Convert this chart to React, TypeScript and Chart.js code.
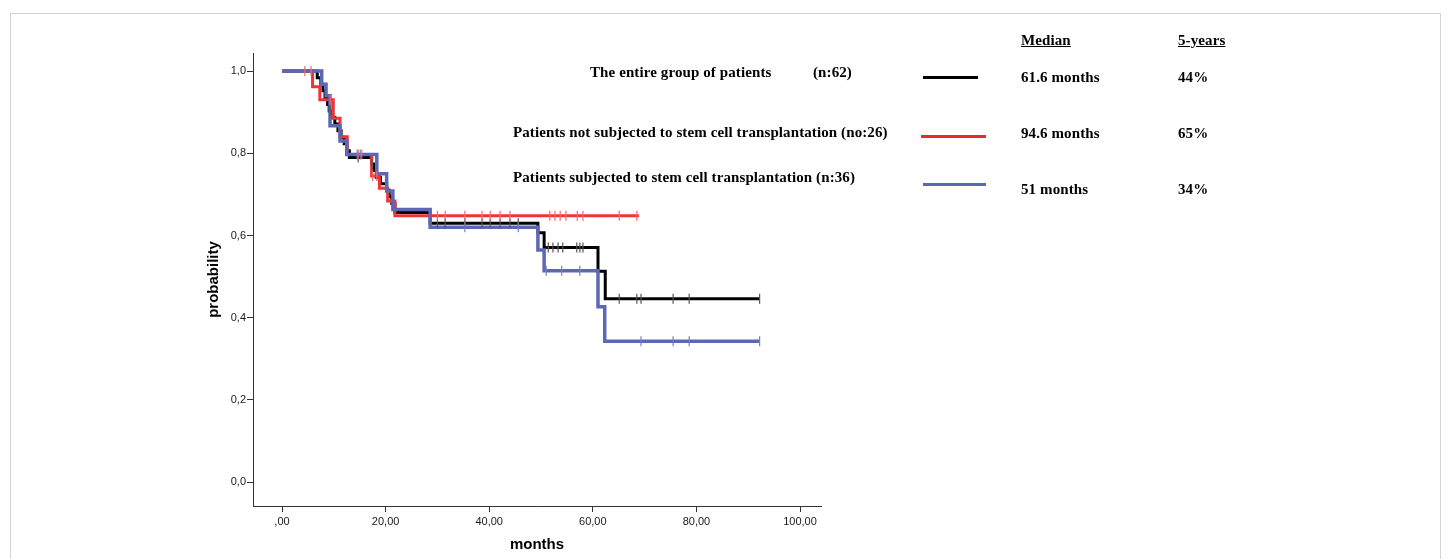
import React, { useEffect, useRef } from 'react';
import { Chart, registerables } from 'chart.js';

Chart.register(...registerables);

// ---- Kaplan-Meier data (months, survival probability after the step) ----
const allTimes = [0, 6.8, 7.5, 7.9, 8.3, 8.8, 9.1, 9.6, 10.2, 10.8, 11.4, 12.0, 12.5, 13.0, 17.3, 17.7, 18.2, 19.0, 20.2, 20.7, 21.2, 21.8, 28.6, 49.4, 50.6, 61.0, 62.4, 92.2];
const allSurv = [1, 0.984, 0.968, 0.952, 0.935, 0.919, 0.903, 0.887, 0.871, 0.855, 0.839, 0.823, 0.806, 0.79, 0.774, 0.758, 0.742, 0.726, 0.71, 0.694, 0.678, 0.656, 0.63, 0.607, 0.571, 0.513, 0.446, 0.446];
const allCensored = [9.3, 14.7, 17.4, 30.0, 31.5, 35.3, 38.6, 40.2, 42.1, 44.0, 45.6, 51.4, 52.3, 53.3, 54.2, 56.9, 57.5, 58.1, 65.1, 68.5, 69.3, 75.5, 78.6, 92.2];

const noSctTimes = [0, 5.9, 7.3, 9.9, 11.2, 12.6, 17.3, 18.8, 20.4, 21.8, 68.9];
const noSctSurv = [1, 0.962, 0.93, 0.885, 0.84, 0.797, 0.745, 0.715, 0.684, 0.648, 0.648];
const noSctCensored = [4.4, 5.6, 9.3, 14.7, 15.4, 17.5, 18.3, 30.0, 31.5, 35.3, 38.6, 40.2, 42.1, 44.0, 51.7, 52.7, 53.7, 54.8, 57.0, 58.1, 65.1, 68.5];

const sctTimes = [0, 7.66, 8.5, 9.27, 11.2, 12.5, 18.3, 20.2, 21.4, 28.6, 49.4, 50.6, 61.0, 62.3, 92.2];
const sctSurv = [1, 0.968, 0.94, 0.867, 0.83, 0.797, 0.75, 0.708, 0.663, 0.62, 0.565, 0.514, 0.427, 0.343, 0.343];
const sctCensored = [14.5, 15.1, 35.3, 45.6, 51.0, 54.0, 57.5, 69.3, 75.5, 78.6, 92.2];

const xTickValues = [0, 20, 40, 60, 80, 100];
const xTickLabels = [',00', '20,00', '40,00', '60,00', '80,00', '100,00'];
const yTickValues = [0, 0.2, 0.4, 0.6, 0.8, 1.0];
const yTickLabels = ['0,0', '0,2', '0,4', '0,6', '0,8', '1,0'];

const groupLabels = [
  'The entire group of patients',
  'Patients not subjected to stem cell transplantation (no:26)',
  'Patients subjected to stem cell transplantation (n:36)',
];
const medianLabels = ['61.6 months', '94.6 months', '51 months'];
const fiveYearLabels = ['44%', '65%', '34%'];

function stepAt(times: number[], surv: number[], t: number): number {
  let v = surv[0];
  for (let i = 0; i < times.length; i++) {
    if (times[i] <= t) v = surv[i];
  }
  return v;
}

const curve = (times: number[], surv: number[]) => times.map((t, i) => ({ x: t, y: surv[i] }));
const marks = (c: number[], times: number[], surv: number[]) => c.map((t) => ({ x: t, y: stepAt(times, surv, t) }));

const serif = '"Liberation Serif", "Times New Roman", serif';
const sans = '"Liberation Sans", Arial, sans-serif';

function Txt(props: { x: number; cy: number; children: React.ReactNode; underline?: boolean }) {
  return (
    <div
      style={{
        position: 'absolute',
        left: props.x,
        top: props.cy - 9,
        lineHeight: '18px',
        fontFamily: serif,
        fontWeight: 'bold',
        fontSize: 15,
        letterSpacing: '0.1px',
        color: '#000',
        whiteSpace: 'nowrap',
        textDecoration: props.underline ? 'underline' : 'none',
      }}
    >
      {props.children}
    </div>
  );
}

function LegendLine(props: { x1: number; x2: number; y: number; color: string }) {
  return (
    <div
      style={{
        position: 'absolute',
        left: props.x1,
        top: props.y - 1.5,
        width: props.x2 - props.x1,
        height: 3,
        background: props.color,
      }}
    />
  );
}

export default function App() {
  const ref = useRef<HTMLCanvasElement | null>(null);

  useEffect(() => {
    if (!ref.current) return;
    const lineDs = (label: string, data: any[], color: string, width: number, order: number) => ({
      label,
      data,
      showLine: true,
      stepped: true,
      borderColor: color,
      borderWidth: width,
      borderJoinStyle: 'miter',
      borderCapStyle: 'butt',
      pointRadius: 0,
      pointHoverRadius: 0,
      pointHitRadius: 0,
      fill: false,
      order,
    });
    const censorDs = (label: string, data: any[], color: string, order: number) => ({
      label,
      data,
      showLine: false,
      pointStyle: 'line',
      pointRotation: 90,
      pointRadius: 5,
      pointHoverRadius: 5,
      pointBorderColor: color,
      pointBackgroundColor: color,
      pointBorderWidth: 1.2,
      borderColor: color,
      order,
    });

    const chart = new Chart(ref.current, {
      type: 'line',
      data: {
        datasets: [
          censorDs('sct censored', marks(sctCensored, sctTimes, sctSurv), '#7580c4', 0),
          censorDs('no sct censored', marks(noSctCensored, noSctTimes, noSctSurv), '#f06a6a', 1),
          censorDs('all censored', marks(allCensored, allTimes, allSurv), '#555555', 2),
          lineDs('sct', curve(sctTimes, sctSurv), '#5c68b5', 3.5, 3),
          lineDs('no sct', curve(noSctTimes, noSctSurv), '#ee3434', 3, 4),
          lineDs('all', curve(allTimes, allSurv), '#000000', 3, 5),
        ] as any,
      },
      options: {
        animation: false,
        responsive: false,
        devicePixelRatio: 1,
        events: [],
        layout: { padding: { left: 180, right: 629, top: 53, bottom: 0 } },
        plugins: { legend: { display: false }, tooltip: { enabled: false }, title: { display: false } },
        scales: {
          x: {
            type: 'linear',
            min: -5.6,
            max: 104.05,
            afterBuildTicks: (s: any) => {
              s.ticks = xTickValues.map((v) => ({ value: v }));
            },
            afterFit: (s: any) => {
              s.height = 53;
            },
            ticks: {
              autoSkip: false,
              maxRotation: 0,
              padding: 3,
              color: '#1a1a1a',
              font: { family: sans, size: 11 },
              callback: (_v: any, i: number) => xTickLabels[i],
            },
            grid: { drawOnChartArea: false, drawTicks: true, tickLength: 6, color: '#333' },
            border: { display: true, color: '#333', width: 1 },
            title: {
              display: true,
              text: 'months',
              color: '#000',
              font: { family: sans, size: 15, weight: 'bold' },
              padding: { top: 0, bottom: 5 },
            },
          },
          y: {
            type: 'linear',
            min: -0.058,
            max: 1.044,
            afterBuildTicks: (s: any) => {
              s.ticks = yTickValues.map((v) => ({ value: v }));
            },
            afterFit: (s: any) => {
              s.width = 73;
            },
            ticks: {
              autoSkip: false,
              padding: 1,
              color: '#1a1a1a',
              font: { family: sans, size: 11 },
              callback: (_v: any, i: number) => yTickLabels[i],
            },
            grid: { drawOnChartArea: false, drawTicks: true, tickLength: 6, color: '#333' },
            border: { display: true, color: '#333', width: 1 },
            title: {
              display: true,
              text: 'probability',
              color: '#000',
              font: { family: sans, size: 15, weight: 'bold' },
              padding: { top: 25, bottom: 0 },
            },
          },
        },
      } as any,
    });
    return () => chart.destroy();
  }, []);

  return (
    <div style={{ position: 'absolute', left: 0, top: 0, width: 1450, height: 559, overflow: 'hidden', background: '#fff' }}>
      <div
        style={{
          position: 'absolute',
          left: 10,
          top: 13,
          width: 1429,
          height: 600,
          border: '1px solid #d4d4d4',
        }}
      />
      <canvas ref={ref} width={1450} height={559} style={{ position: 'absolute', left: 0, top: 0, width: 1450, height: 559 }} />
      <Txt x={590} cy={72}>{groupLabels[0]}</Txt>
      <Txt x={813} cy={72}>(n:62)</Txt>
      <Txt x={513} cy={132}>{groupLabels[1]}</Txt>
      <Txt x={513} cy={177}>{groupLabels[2]}</Txt>
      <LegendLine x1={923} x2={978} y={77} color="#000000" />
      <LegendLine x1={921} x2={986} y={136} color="#e82a2c" />
      <LegendLine x1={923} x2={986} y={184} color="#5a68b4" />
      <Txt x={1021} cy={40} underline>Median</Txt>
      <Txt x={1178} cy={40} underline>5-years</Txt>
      <Txt x={1021} cy={77}>{medianLabels[0]}</Txt>
      <Txt x={1178} cy={77}>{fiveYearLabels[0]}</Txt>
      <Txt x={1021} cy={133}>{medianLabels[1]}</Txt>
      <Txt x={1178} cy={133}>{fiveYearLabels[1]}</Txt>
      <Txt x={1021} cy={189}>{medianLabels[2]}</Txt>
      <Txt x={1178} cy={189}>{fiveYearLabels[2]}</Txt>
    </div>
  );
}
